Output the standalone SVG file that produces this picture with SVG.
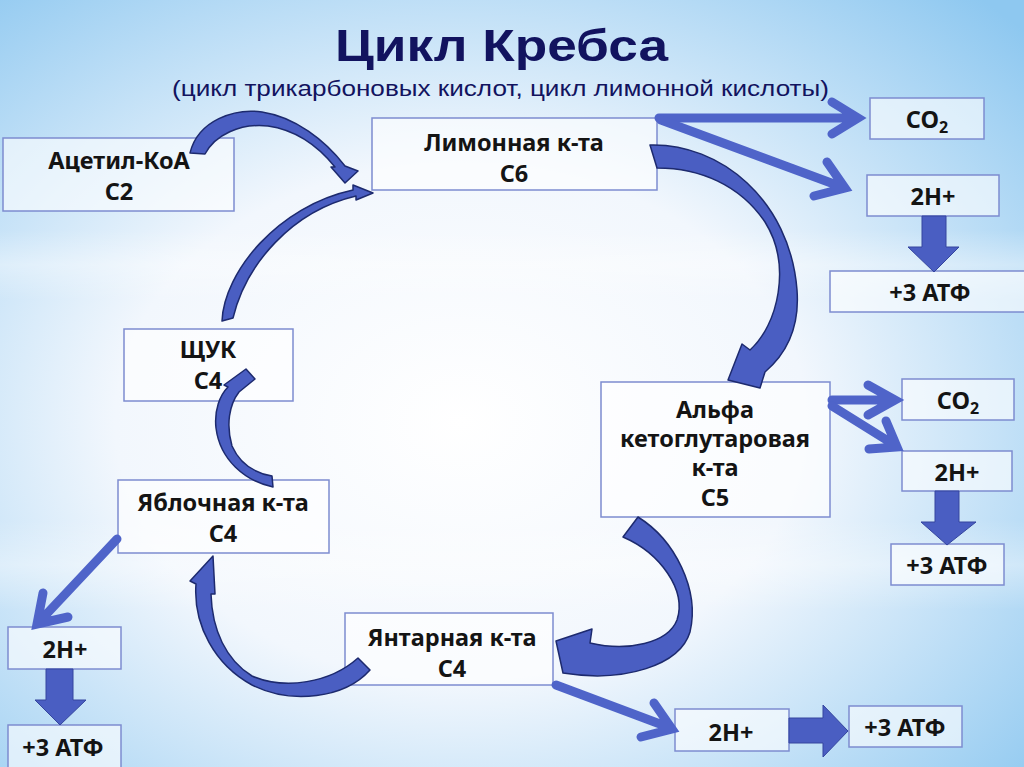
<svg xmlns="http://www.w3.org/2000/svg" width="1024" height="767" viewBox="0 0 1024 767">
<defs>
<radialGradient id="bg" cx="0.45" cy="0.55" r="0.75">
<stop offset="0" stop-color="#ffffff"/>
<stop offset="0.45" stop-color="#f2f7fd"/>
<stop offset="1" stop-color="#8ec8f0"/>
</radialGradient>
<linearGradient id="streak" x1="0" y1="0" x2="0" y2="1">
<stop offset="0" stop-color="#ffffff" stop-opacity="0"/>
<stop offset="0.5" stop-color="#ffffff" stop-opacity="0.35"/>
<stop offset="1" stop-color="#ffffff" stop-opacity="0"/>
</linearGradient>
<style>
.box{fill:#ffffff;fill-opacity:0.6;stroke:#7d8cd0;stroke-width:1.5}
.lbl{font-family:"Noto Sans","Open Sans","DejaVu Sans",sans-serif;font-weight:bold;font-size:23.5px;fill:#141414;text-anchor:middle}
.sub{font-size:16px}
.ln{fill:none;stroke:#4f64c9;stroke-width:9;stroke-linecap:round;stroke-linejoin:miter}
.blk{fill:#4a5ec2;stroke:#34459e;stroke-width:1}
.crv{fill:#4a5ec2;stroke:#1d2a6e;stroke-width:1.5;stroke-linejoin:round}
.ttl{font-family:"Liberation Sans Narrow","Liberation Sans",sans-serif;fill:#12135f;text-anchor:start}
</style>
</defs>
<rect width="1024" height="767" fill="url(#bg)"/>
<rect x="0" y="520" width="1024" height="90" fill="url(#streak)"/>
<rect x="0" y="230" width="1024" height="70" fill="url(#streak)"/>

<g id="title">
<text class="ttl" x="335" y="61" font-size="45" font-weight="bold" textLength="333" lengthAdjust="spacingAndGlyphs">Цикл Кребса</text>
<text class="ttl" x="172" y="96" font-size="22" textLength="657" lengthAdjust="spacingAndGlyphs">(цикл трикарбоновых кислот, цикл лимонной кислоты)</text>
</g>

<g id="acetyl">
<rect class="box" x="3" y="138" width="231" height="73"/>
<text class="lbl" x="119" y="169">Ацетил-КоА</text>
<text class="lbl" x="119" y="200">C2</text>
</g>
<g id="citric">
<rect class="box" x="372" y="118" width="285" height="72"/>
<text class="lbl" x="514" y="151">Лимонная к-та</text>
<text class="lbl" x="514" y="182">C6</text>
</g>
<g id="co2-top">
<rect class="box" x="870" y="98" width="114" height="41"/>
<text class="lbl" x="927" y="128">CO<tspan class="sub" dy="5">2</tspan></text>
</g>
<g id="h-top">
<rect class="box" x="867" y="175" width="132" height="41"/>
<text class="lbl" x="933" y="205">2H+</text>
</g>
<g id="atp-top">
<rect class="box" x="830" y="271" width="196" height="41"/>
<text class="lbl" x="930" y="301">+3 АТФ</text>
</g>
<g id="oxaloacetate">
<rect class="box" x="124" y="329" width="169" height="72"/>
<text class="lbl" x="208" y="358">ЩУК</text>
<text class="lbl" x="208" y="389">C4</text>
</g>
<g id="alpha">
<rect class="box" x="601" y="382" width="229" height="135"/>
<text class="lbl" x="715" y="418">Альфа</text>
<text class="lbl" x="715" y="447">кетоглутаровая</text>
<text class="lbl" x="715" y="476">к-та</text>
<text class="lbl" x="715" y="506">C5</text>
</g>
<g id="co2-right">
<rect class="box" x="902" y="379" width="112" height="41"/>
<text class="lbl" x="958" y="409">CO<tspan class="sub" dy="5">2</tspan></text>
</g>
<g id="h-right">
<rect class="box" x="902" y="451" width="110" height="40"/>
<text class="lbl" x="957" y="481">2H+</text>
</g>
<g id="atp-right">
<rect class="box" x="891" y="544" width="113" height="41"/>
<text class="lbl" x="947" y="574">+3 АТФ</text>
</g>
<g id="malate">
<rect class="box" x="118" y="480" width="211" height="73"/>
<text class="lbl" x="223" y="511">Яблочная к-та</text>
<text class="lbl" x="223" y="542">C4</text>
</g>
<g id="h-left">
<rect class="box" x="8" y="627" width="113" height="42"/>
<text class="lbl" x="65" y="658">2H+</text>
</g>
<g id="atp-left">
<rect class="box" x="8" y="725" width="113" height="44"/>
<text class="lbl" x="63" y="756">+3 АТФ</text>
</g>
<g id="succinate">
<rect class="box" x="345" y="613" width="208" height="72"/>
<text class="lbl" x="452" y="646">Янтарная к-та</text>
<text class="lbl" x="452" y="677">C4</text>
</g>
<g id="h-bottom">
<rect class="box" x="675" y="709" width="114" height="42"/>
<text class="lbl" x="731" y="741">2H+</text>
</g>
<g id="atp-bottom">
<rect class="box" x="849" y="706" width="113" height="41"/>
<text class="lbl" x="905" y="736">+3 АТФ</text>
</g>

<g id="connectors">
<path class="ln" d="M659,118 L856,118 M832,102 L858,118 L832,134"/>
<path class="ln" d="M661,120 L842,187 M827,162 L845,188 L814,196"/>
<path class="ln" d="M832,400 L893,400 M868,385 L895,400 L868,415"/>
<path class="ln" d="M832,406 L893,444 M886,421 L897,447 L869,449"/>
<path class="ln" d="M117,539 L40,621 M68,617 L37,624 L43,593"/>
<path class="ln" d="M556,685 L668,727 M654,703 L672,729 L641,737"/>

<path class="blk" d="M922,216 L946,216 L946,247 L959,247 L934,272 L908,247 L922,247 Z"/>
<path class="blk" d="M935,491 L959,491 L959,522 L976,522 L947,545 L921,522 L935,522 Z"/>
<path class="blk" d="M46,669 L73,669 L73,700 L86,700 L60,725 L35,700 L46,700 Z"/>
<path class="blk" d="M789,718 L823,718 L823,705 L848,731 L823,757 L823,743 L789,743 Z"/>

<path class="crv" d="M190,153 C198,120 235,108 262,112 C295,117 325,140 345,166 L358,171 L345,183 L331,167 L335,167 C318,146 296,130 268,126 C240,123 215,135 205,154 Z"/>
<path class="crv" d="M222,321 C224,272 278,206 353,190 L353,185 L373,193 L356,200 L356,196 C292,211 246,264 233,318 Z"/>
<path class="crv" d="M650,145 C720,143 790,200 797,290 C800,330 785,355 765,372 L760,388 L728,380 L742,344 L750,350 C778,325 792,265 765,222 C740,185 700,168 657,168 Z"/>
<path class="crv" d="M638,517 C675,540 700,590 690,632 C680,665 625,683 563,673 L556,641 L592,629 L590,643 C628,652 668,643 677,620 C687,590 660,553 623,537 Z"/>
<path class="crv" d="M358,658 L370,670 C345,698 292,705 252,685 C215,665 193,625 196,584 L190,581 L213,556 L215,594 L211,594 C212,630 226,660 252,676 C285,690 330,683 358,658 Z"/>
<path class="crv" d="M272,476 L273,487 C245,481 220,460 216,428 C214,410 220,395 228,387 L224,385 L246,369 L255,379 L239,392 C229,405 226,425 232,446 C240,464 255,473 272,476 Z"/>
</g>
</svg>
